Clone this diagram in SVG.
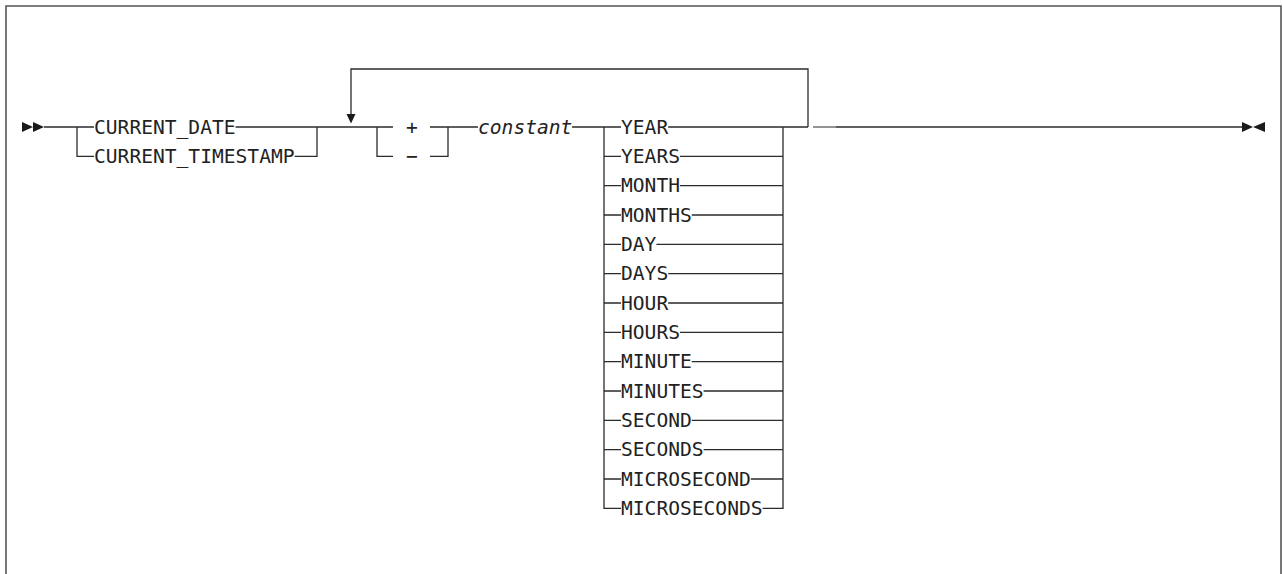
<svg xmlns="http://www.w3.org/2000/svg" width="1283" height="574" viewBox="0 0 1283 574">
<style>
.ln{fill:none;stroke:#2b2b2b;stroke-width:1.3}
.fr{fill:none;stroke:#555;stroke-width:1.6}
.ah{fill:#1a1a1a;stroke:none}
.t{font-family:"DejaVu Sans Mono","Liberation Mono",monospace;font-size:19.6px;fill:#222}
.i{font-style:italic}
</style>
<rect width="1283" height="574" fill="#fff"/>
<path class="fr" d="M6,574 V6 H1281 V574"/>
<g id="connectors">
<path class="ah" d="M22,122 L33,127 L22,132 Z M33,122 L44,127 L33,132 Z"/>
<path class="ln" d="M44,127 H94 M77,127 V156.3 H94"/>
<path class="ln" d="M235.6,127 H317 M294.6,156.3 H317 V127 M317,127 H393 M377,127 V156.3 H393 M430,127 H448 M430,156.3 H448 V127 M448,127 H478"/>
<path class="ln" d="M351,114 V69 H808 V127"/>
<path class="ah" d="M346.5,114 L355.5,114 L351,123.5 Z"/>
<path class="ln" d="M572,127 H621 M604,127 V508.3 H621 M783,127 V508.3 H762.6 M783,127 H808"/>
<path class="ln" d="M604,156.3 H621 M604,185.7 H621 M604,215 H621 M604,244.3 H621 M604,273.7 H621 M604,303 H621 M604,332.3 H621 M604,361.7 H621 M604,391 H621 M604,420.3 H621 M604,449.7 H621 M604,479 H621"/>
<path class="ln" d="M668.2,127 H783 M680,156.3 H783 M680,185.7 H783 M691.8,215 H783 M656.4,244.3 H783 M668.2,273.7 H783 M668.2,303 H783 M680,332.3 H783 M691.8,361.7 H783 M703.6,391 H783 M691.8,420.3 H783 M703.6,449.7 H783 M750.8,479 H783"/>
<path d="M813,127 H836" fill="none" stroke="#888" stroke-width="1.8"/>
<path class="ln" d="M836,127 H1242"/>
<path class="ah" d="M1242,122 L1253,127 L1242,132 Z M1265,122 L1253,127 L1265,132 Z"/>
</g>
<g id="n-current-date"><text class="t" x="94" y="133.5">CURRENT_DATE</text></g>
<g id="n-current-timestamp"><text class="t" x="94" y="162.8">CURRENT_TIMESTAMP</text></g>
<g id="n-plus"><text class="t" x="412" y="133.5" text-anchor="middle">+</text></g>
<g id="n-minus"><text class="t" x="412" y="162.8" text-anchor="middle">−</text></g>
<g id="n-constant"><text class="t i" x="478" y="133.5">constant</text></g>
<g id="n-year"><text class="t" x="621" y="133.5">YEAR</text></g>
<g id="n-years"><text class="t" x="621" y="162.8">YEARS</text></g>
<g id="n-month"><text class="t" x="621" y="192.2">MONTH</text></g>
<g id="n-months"><text class="t" x="621" y="221.5">MONTHS</text></g>
<g id="n-day"><text class="t" x="621" y="250.8">DAY</text></g>
<g id="n-days"><text class="t" x="621" y="280.2">DAYS</text></g>
<g id="n-hour"><text class="t" x="621" y="309.5">HOUR</text></g>
<g id="n-hours"><text class="t" x="621" y="338.8">HOURS</text></g>
<g id="n-minute"><text class="t" x="621" y="368.2">MINUTE</text></g>
<g id="n-minutes"><text class="t" x="621" y="397.5">MINUTES</text></g>
<g id="n-second"><text class="t" x="621" y="426.8">SECOND</text></g>
<g id="n-seconds"><text class="t" x="621" y="456.2">SECONDS</text></g>
<g id="n-microsecond"><text class="t" x="621" y="485.5">MICROSECOND</text></g>
<g id="n-microseconds"><text class="t" x="621" y="514.8">MICROSECONDS</text></g>
</svg>
